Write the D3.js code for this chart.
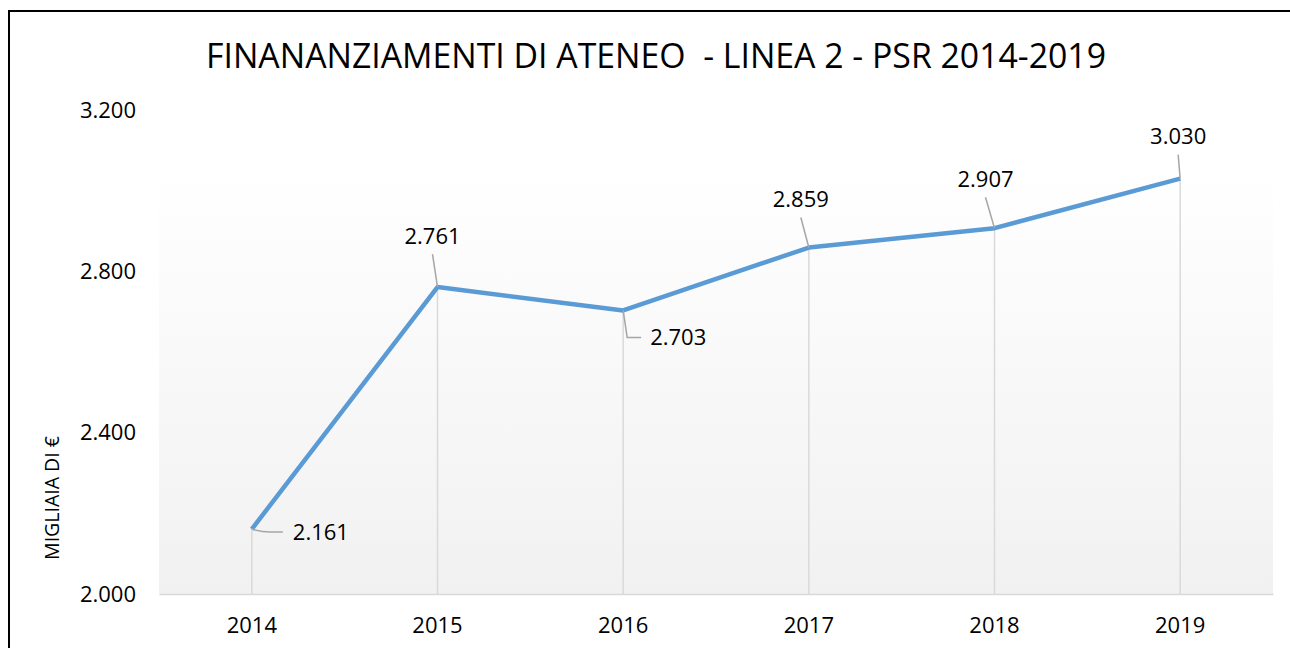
<!DOCTYPE html>
<html>
<head>
<meta charset="utf-8">
<script src="https://cdn.jsdelivr.net/npm/d3@7"></script>
<style>
  body { margin: 0; background: #fff; }
  svg { display: block; font-family: "Open Sans", sans-serif; }
</style>
</head>
<body>
<svg></svg>
<script>
// chart data
var years = ['2014', '2015', '2016', '2017', '2018', '2019']
var values = [2161, 2761, 2703, 2859, 2907, 3030]
var yTicks = [2000, 2400, 2800, 3200]
var title = 'FINANANZIAMENTI DI ATENEO  - LINEA 2 - PSR 2014-2019'
var yTitle = 'MIGLIAIA DI €'

// where each data label sits relative to its point (layout only)
var labelLayout = [
  { side: 'right', dx: 41, dy: 3 },
  { side: 'above', dx: -5, dy: -51 },
  { side: 'below', dx: 27, dy: 27 },
  { side: 'above', dx: -8, dy: -48 },
  { side: 'above', dx: -9, dy: -49 },
  { side: 'above', dx: -2, dy: -42 }
]

var width = 1290
var height = 648
var fmt = d3.format(',')
var itLabel = v => fmt(v).replace(/,/g, '.')

var svg = d3.select('svg')
  .attr('width', width)
  .attr('height', height)

// outer frame (right and bottom edges fall outside the picture)
svg.append('rect')
  .attr('x', 9).attr('y', 11)
  .attr('width', width + 20).attr('height', height + 20)
  .attr('fill', '#fff')
  .attr('stroke', '#000')
  .attr('stroke-width', 2)

var plot = { left: 159, right: 1273, top: 110, bottom: 594 }

var x = d3.scaleBand()
  .domain(years)
  .range([plot.left, plot.right])

var y = d3.scaleLinear()
  .domain([2000, 3200])
  .range([plot.bottom, plot.top])

var cx = d => x(d) + x.bandwidth() / 2

// plot area background gradient
var defs = svg.append('defs')
var grad = defs.append('linearGradient')
  .attr('id', 'bg')
  .attr('x1', 0).attr('y1', 0).attr('x2', 0).attr('y2', 1)
grad.append('stop').attr('offset', '0%').attr('stop-color', '#ffffff')
grad.append('stop').attr('offset', '12%').attr('stop-color', '#ffffff')
grad.append('stop').attr('offset', '100%').attr('stop-color', '#f1f1f1')

svg.append('rect')
  .attr('x', plot.left).attr('y', plot.top)
  .attr('width', plot.right - plot.left)
  .attr('height', plot.bottom - plot.top)
  .attr('fill', 'url(#bg)')

// title
svg.append('text')
  .attr('x', 656).attr('y', 68)
  .attr('text-anchor', 'middle')
  .attr('font-size', 33.8)
  .attr('fill', '#000')
  .style('white-space', 'pre')
  .text(title)

// y axis labels
var yAxis = d3.axisLeft(y)
  .tickValues(yTicks)
  .tickFormat(itLabel)
  .tickSize(0)
  .tickPadding(0)

var yg = svg.append('g')
  .attr('transform', 'translate(136,0)')
  .call(yAxis)
yg.select('.domain').remove()
yg.selectAll('text')
  .attr('font-family', '"Open Sans", sans-serif')
  .attr('font-size', 22)
  .attr('fill', '#000')

// y axis title
svg.append('text')
  .attr('transform', 'translate(59,498) rotate(-90)')
  .attr('text-anchor', 'middle')
  .attr('font-size', 19.5)
  .attr('fill', '#000')
  .text(yTitle)

// x axis
var xAxis = d3.axisBottom(x)
  .tickSize(0)
  .tickPadding(23)

var xg = svg.append('g')
  .attr('transform', 'translate(0,' + plot.bottom + ')')
  .call(xAxis)
xg.select('.domain')
  .attr('stroke', '#d9d9d9')
  .attr('stroke-width', 1.5)
xg.selectAll('text')
  .attr('font-family', '"Open Sans", sans-serif')
  .attr('font-size', 22)
  .attr('fill', '#000')

// drop lines from each point to the axis
svg.append('g')
  .selectAll('line')
  .data(values)
  .join('line')
  .attr('x1', (d, i) => cx(years[i]))
  .attr('x2', (d, i) => cx(years[i]))
  .attr('y1', d => y(d))
  .attr('y2', plot.bottom)
  .attr('stroke', '#d9d9d9')
  .attr('stroke-width', 1.5)

// the series line
var line = d3.line()
  .x((d, i) => cx(years[i]))
  .y(d => y(d))

svg.append('path')
  .datum(values)
  .attr('d', line)
  .attr('fill', 'none')
  .attr('stroke', '#5b9bd5')
  .attr('stroke-width', 4.5)
  .attr('stroke-linejoin', 'round')

// data labels with leader lines
var labels = svg.append('g')
values.forEach((v, i) => {
  var px = cx(years[i])
  var py = y(v)
  var lay = labelLayout[i]
  var leader
  var tx, ty, anchor
  if (lay.side === 'right') {
    leader = 'M' + px + ',' + py + ' Q' + (px + 10) + ',' + (py + 3) + ' ' + (px + 18) + ',' + (py + 3) + ' L' + (px + 31) + ',' + (py + 3)
    tx = px + lay.dx; ty = py + lay.dy; anchor = 'start'
  } else if (lay.side === 'below') {
    leader = 'M' + px + ',' + py + ' L' + (px + 4) + ',' + (py + lay.dy) + ' L' + (px + 18) + ',' + (py + lay.dy)
    tx = px + lay.dx; ty = py + lay.dy; anchor = 'start'
  } else {
    leader = 'M' + px + ',' + py + ' L' + (px + lay.dx) + ',' + (py + lay.dy + 18)
    tx = px + lay.dx; ty = py + lay.dy; anchor = 'middle'
  }
  labels.append('path')
    .attr('d', leader)
    .attr('fill', 'none')
    .attr('stroke', '#a6a6a6')
    .attr('stroke-width', 1.5)
  labels.append('text')
    .attr('x', tx).attr('y', ty)
    .attr('dy', '0.35em')
    .attr('text-anchor', anchor)
    .attr('font-size', 22)
    .attr('fill', '#000')
    .text(itLabel(v))
})
</script>
</body>
</html>
